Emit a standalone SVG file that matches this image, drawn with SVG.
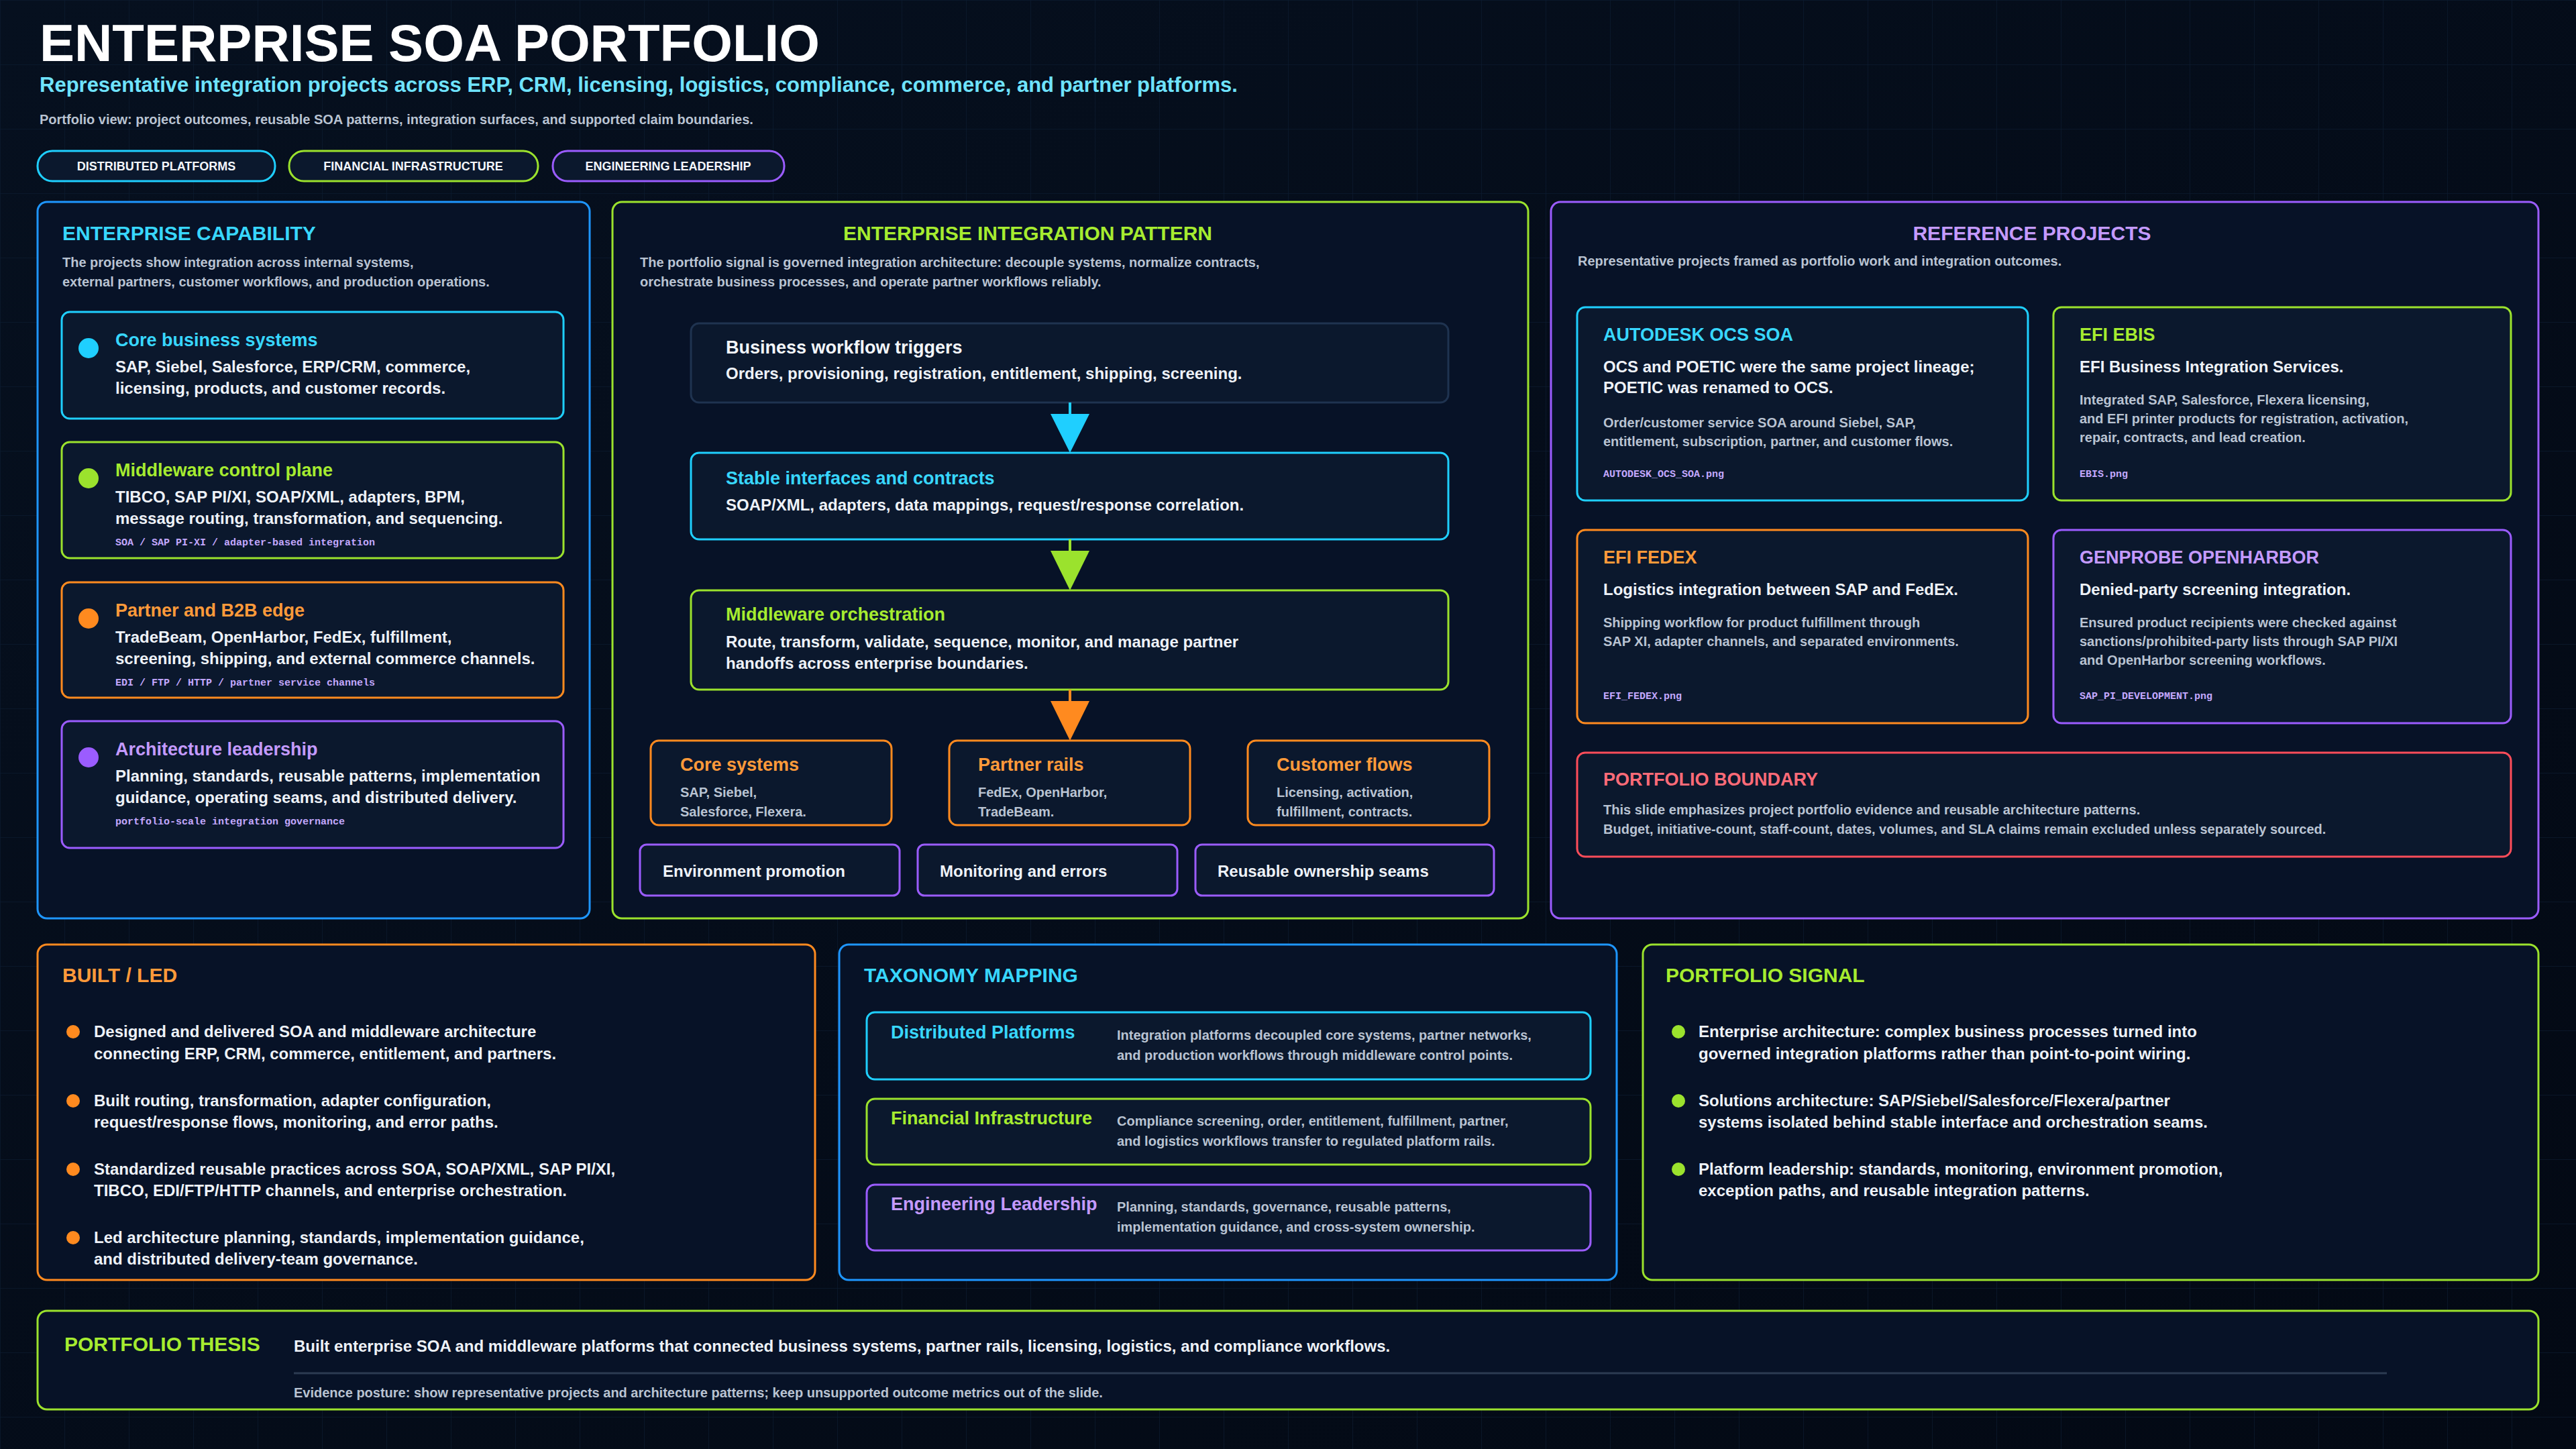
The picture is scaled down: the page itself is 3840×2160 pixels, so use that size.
<svg xmlns="http://www.w3.org/2000/svg" width="3840" height="2160" viewBox="0 0 3840 2160">
<defs>
<linearGradient id="bg" x1="0" y1="0" x2="1" y2="1"><stop offset="0" stop-color="#06101f"/><stop offset="1" stop-color="#030914"/></linearGradient>
<pattern id="grid" width="96" height="96" patternUnits="userSpaceOnUse"><path d="M96 0H0V96" fill="none" stroke="#0c1a2e" stroke-width="1.5"/></pattern>
</defs>
<style>
text{font-family:"Liberation Sans",Arial,sans-serif}
.panel{fill:#071227;stroke-width:3}
.card{fill:#0b182d;stroke-width:3}
.cy{stroke:#1fcfff}.gr{stroke:#9be22d}.or{stroke:#ff8a1f}.pu{stroke:#9b5cff}.bl{stroke:#1e96ff}.rd{stroke:#ff4d5a}.nv{stroke:#1f3350}
.h{font-weight:700;font-size:30px}
.tcy{fill:#38d7ff}.tgr{fill:#a6ec30}.tor{fill:#ff9a3a}.tpu{fill:#c49aff}.trd{fill:#ff6b78}
.ct{font-weight:700;font-size:27px}
.body{font-weight:700;font-size:24px;fill:#eef2f8}
.desc{font-weight:700;font-size:20px;fill:#b9c3d2}
.mono{font-family:"Liberation Mono",monospace;font-size:15px;font-weight:700;fill:#c4a8ff}
.wt{fill:#f3f6fb}
</style>
<rect width="3840" height="2160" fill="url(#bg)"/>
<rect width="3840" height="2160" fill="url(#grid)"/>

<g id="header">
<text x="59" y="91" font-size="78" font-weight="700" fill="#ffffff">ENTERPRISE SOA PORTFOLIO</text>
<text x="59" y="137" font-size="31" font-weight="700" fill="#6fe3ff">Representative integration projects across ERP, CRM, licensing, logistics, compliance, commerce, and partner platforms.</text>
<text x="59" y="185" font-size="20" font-weight="700" fill="#b9c3d2">Portfolio view: project outcomes, reusable SOA patterns, integration surfaces, and supported claim boundaries.</text>
</g>
<g id="pills" font-size="18" font-weight="700">
<rect x="56" y="225" width="354" height="45" rx="22" fill="#0b182d" stroke="#1fcfff" stroke-width="3"/>
<text x="233" y="254" text-anchor="middle" class="wt">DISTRIBUTED PLATFORMS</text>
<rect x="431" y="225" width="371" height="45" rx="22" fill="#0b182d" stroke="#9be22d" stroke-width="3"/>
<text x="616" y="254" text-anchor="middle" class="wt">FINANCIAL INFRASTRUCTURE</text>
<rect x="824" y="225" width="345" height="45" rx="22" fill="#0b182d" stroke="#9b5cff" stroke-width="3"/>
<text x="996" y="254" text-anchor="middle" class="wt">ENGINEERING LEADERSHIP</text>
</g>

<g id="capability">
<rect x="56" y="301" width="823" height="1068" rx="14" class="panel bl"/>
<text x="93" y="358" class="h tcy">ENTERPRISE CAPABILITY</text>
<text x="93" y="398" class="desc">The projects show integration across internal systems,</text>
<text x="93" y="427" class="desc">external partners, customer workflows, and production operations.</text>
</g>
<g id="cap-core">
<rect x="92" y="465" width="748" height="159" rx="12" class="card cy"/>
<circle cx="132" cy="519" r="15" fill="#1fcfff"/>
<text x="172" y="516" class="ct tcy">Core business systems</text>
<text x="172" y="555" class="body">SAP, Siebel, Salesforce, ERP/CRM, commerce,</text>
<text x="172" y="587" class="body">licensing, products, and customer records.</text>
</g>
<g id="cap-middleware">
<rect x="92" y="659" width="748" height="173" rx="12" class="card gr"/>
<circle cx="132" cy="713" r="15" fill="#9be22d"/>
<text x="172" y="710" class="ct tgr">Middleware control plane</text>
<text x="172" y="749" class="body">TIBCO, SAP PI/XI, SOAP/XML, adapters, BPM,</text>
<text x="172" y="781" class="body">message routing, transformation, and sequencing.</text>
<text x="172" y="813" class="mono">SOA / SAP PI-XI / adapter-based integration</text>
</g>
<g id="cap-partner">
<rect x="92" y="868" width="748" height="172" rx="12" class="card or"/>
<circle cx="132" cy="922" r="15" fill="#ff8a1f"/>
<text x="172" y="919" class="ct tor">Partner and B2B edge</text>
<text x="172" y="958" class="body">TradeBeam, OpenHarbor, FedEx, fulfillment,</text>
<text x="172" y="990" class="body">screening, shipping, and external commerce channels.</text>
<text x="172" y="1022" class="mono">EDI / FTP / HTTP / partner service channels</text>
</g>
<g id="cap-arch">
<rect x="92" y="1075" width="748" height="189" rx="12" class="card pu"/>
<circle cx="132" cy="1129" r="15" fill="#9b5cff"/>
<text x="172" y="1126" class="ct tpu">Architecture leadership</text>
<text x="172" y="1165" class="body">Planning, standards, reusable patterns, implementation</text>
<text x="172" y="1197" class="body">guidance, operating seams, and distributed delivery.</text>
<text x="172" y="1229" class="mono">portfolio-scale integration governance</text>
</g>

<g id="pattern">
<rect x="913" y="301" width="1365" height="1068" rx="14" class="panel gr"/>
<text x="1532" y="358" text-anchor="middle" class="h tgr">ENTERPRISE INTEGRATION PATTERN</text>
<text x="954" y="398" class="desc">The portfolio signal is governed integration architecture: decouple systems, normalize contracts,</text>
<text x="954" y="427" class="desc">orchestrate business processes, and operate partner workflows reliably.</text>
</g>
<g id="triggers">
<rect x="1030" y="482" width="1129" height="118" rx="12" class="card nv"/>
<text x="1082" y="527" class="ct wt">Business workflow triggers</text>
<text x="1082" y="565" class="body">Orders, provisioning, registration, entitlement, shipping, screening.</text>
</g>
<g id="interfaces">
<rect x="1030" y="675" width="1129" height="129" rx="12" class="card cy"/>
<text x="1082" y="722" class="ct tcy">Stable interfaces and contracts</text>
<text x="1082" y="761" class="body">SOAP/XML, adapters, data mappings, request/response correlation.</text>
</g>
<g id="orchestration">
<rect x="1030" y="880" width="1129" height="148" rx="12" class="card gr"/>
<text x="1082" y="925" class="ct tgr">Middleware orchestration</text>
<text x="1082" y="965" class="body">Route, transform, validate, sequence, monitor, and manage partner</text>
<text x="1082" y="997" class="body">handoffs across enterprise boundaries.</text>
</g>
<g id="core-systems">
<rect x="970" y="1104" width="359" height="126" rx="12" class="card or"/>
<text x="1014" y="1149" class="ct tor">Core systems</text>
<text x="1014" y="1188" class="desc">SAP, Siebel,</text>
<text x="1014" y="1217" class="desc">Salesforce, Flexera.</text>
</g>
<g id="partner-rails">
<rect x="1415" y="1104" width="359" height="126" rx="12" class="card or"/>
<text x="1458" y="1149" class="ct tor">Partner rails</text>
<text x="1458" y="1188" class="desc">FedEx, OpenHarbor,</text>
<text x="1458" y="1217" class="desc">TradeBeam.</text>
</g>
<g id="customer-flows">
<rect x="1860" y="1104" width="360" height="126" rx="12" class="card or"/>
<text x="1903" y="1149" class="ct tor">Customer flows</text>
<text x="1903" y="1188" class="desc">Licensing, activation,</text>
<text x="1903" y="1217" class="desc">fulfillment, contracts.</text>
</g>
<g id="env-promotion">
<rect x="954" y="1259" width="387" height="76" rx="10" class="card pu"/>
<text x="988" y="1307" class="body">Environment promotion</text>
</g>
<g id="monitoring">
<rect x="1368" y="1259" width="387" height="76" rx="10" class="card pu"/>
<text x="1401" y="1307" class="body">Monitoring and errors</text>
</g>
<g id="ownership">
<rect x="1782" y="1259" width="445" height="76" rx="10" class="card pu"/>
<text x="1815" y="1307" class="body">Reusable ownership seams</text>
</g>
<g id="connectors">
<line x1="1595" y1="600" x2="1595" y2="620" stroke="#1fcfff" stroke-width="4"/>
<polygon points="1566,617 1624,617 1595,675" fill="#1fcfff"/>
<line x1="1595" y1="804" x2="1595" y2="824" stroke="#9be22d" stroke-width="4"/>
<polygon points="1566,821 1624,821 1595,880" fill="#9be22d"/>
<line x1="1595" y1="1028" x2="1595" y2="1048" stroke="#ff8a1f" stroke-width="4"/>
<polygon points="1566,1045 1624,1045 1595,1104" fill="#ff8a1f"/>
</g>

<g id="reference">
<rect x="2312" y="301" width="1472" height="1068" rx="14" class="panel pu"/>
<text x="3029" y="358" text-anchor="middle" class="h tpu">REFERENCE PROJECTS</text>
<text x="2352" y="396" class="desc">Representative projects framed as portfolio work and integration outcomes.</text>
</g>
<g id="autodesk">
<rect x="2351" y="458" width="672" height="288" rx="12" class="card cy"/>
<text x="2390" y="508" class="ct tcy" font-size="29">AUTODESK OCS SOA</text>
<text x="2390" y="555" class="body">OCS and POETIC were the same project lineage;</text>
<text x="2390" y="586" class="body">POETIC was renamed to OCS.</text>
<text x="2390" y="637" class="desc">Order/customer service SOA around Siebel, SAP,</text>
<text x="2390" y="665" class="desc">entitlement, subscription, partner, and customer flows.</text>
<text x="2390" y="711" class="mono">AUTODESK_OCS_SOA.png</text>
</g>
<g id="efi-ebis">
<rect x="3061" y="458" width="682" height="288" rx="12" class="card gr"/>
<text x="3100" y="508" class="ct tgr" font-size="29">EFI EBIS</text>
<text x="3100" y="555" class="body">EFI Business Integration Services.</text>
<text x="3100" y="603" class="desc">Integrated SAP, Salesforce, Flexera licensing,</text>
<text x="3100" y="631" class="desc">and EFI printer products for registration, activation,</text>
<text x="3100" y="659" class="desc">repair, contracts, and lead creation.</text>
<text x="3100" y="711" class="mono">EBIS.png</text>
</g>
<g id="efi-fedex">
<rect x="2351" y="790" width="672" height="288" rx="12" class="card or"/>
<text x="2390" y="840" class="ct tor" font-size="29">EFI FEDEX</text>
<text x="2390" y="887" class="body">Logistics integration between SAP and FedEx.</text>
<text x="2390" y="935" class="desc">Shipping workflow for product fulfillment through</text>
<text x="2390" y="963" class="desc">SAP XI, adapter channels, and separated environments.</text>
<text x="2390" y="1042" class="mono">EFI_FEDEX.png</text>
</g>
<g id="genprobe">
<rect x="3061" y="790" width="682" height="288" rx="12" class="card pu"/>
<text x="3100" y="840" class="ct tpu" font-size="29">GENPROBE OPENHARBOR</text>
<text x="3100" y="887" class="body">Denied-party screening integration.</text>
<text x="3100" y="935" class="desc">Ensured product recipients were checked against</text>
<text x="3100" y="963" class="desc">sanctions/prohibited-party lists through SAP PI/XI</text>
<text x="3100" y="991" class="desc">and OpenHarbor screening workflows.</text>
<text x="3100" y="1042" class="mono">SAP_PI_DEVELOPMENT.png</text>
</g>
<g id="boundary">
<rect x="2351" y="1122" width="1392" height="155" rx="12" class="card rd"/>
<text x="2390" y="1171" class="ct trd" font-size="31">PORTFOLIO BOUNDARY</text>
<text x="2390" y="1214" class="desc">This slide emphasizes project portfolio evidence and reusable architecture patterns.</text>
<text x="2390" y="1243" class="desc">Budget, initiative-count, staff-count, dates, volumes, and SLA claims remain excluded unless separately sourced.</text>
</g>

<g id="built-led">
<rect x="56" y="1408" width="1159" height="500" rx="14" class="panel or"/>
<text x="93" y="1464" class="h tor">BUILT / LED</text>
<circle cx="109" cy="1538" r="10" fill="#ff8a1f"/>
<text x="140" y="1546" class="body">Designed and delivered SOA and middleware architecture</text>
<text x="140" y="1579" class="body">connecting ERP, CRM, commerce, entitlement, and partners.</text>
<circle cx="109" cy="1641" r="10" fill="#ff8a1f"/>
<text x="140" y="1649" class="body">Built routing, transformation, adapter configuration,</text>
<text x="140" y="1681" class="body">request/response flows, monitoring, and error paths.</text>
<circle cx="109" cy="1743" r="10" fill="#ff8a1f"/>
<text x="140" y="1751" class="body">Standardized reusable practices across SOA, SOAP/XML, SAP PI/XI,</text>
<text x="140" y="1783" class="body">TIBCO, EDI/FTP/HTTP channels, and enterprise orchestration.</text>
<circle cx="109" cy="1845" r="10" fill="#ff8a1f"/>
<text x="140" y="1853" class="body">Led architecture planning, standards, implementation guidance,</text>
<text x="140" y="1885" class="body">and distributed delivery-team governance.</text>
</g>

<g id="taxonomy">
<rect x="1251" y="1408" width="1159" height="500" rx="14" class="panel bl"/>
<text x="1288" y="1464" class="h tcy">TAXONOMY MAPPING</text>
</g>
<g id="tax-distributed">
<rect x="1292" y="1509" width="1079" height="100" rx="12" class="card cy"/>
<text x="1328" y="1548" class="ct tcy">Distributed Platforms</text>
<text x="1665" y="1550" class="desc">Integration platforms decoupled core systems, partner networks,</text>
<text x="1665" y="1580" class="desc">and production workflows through middleware control points.</text>
</g>
<g id="tax-financial">
<rect x="1292" y="1638" width="1079" height="98" rx="12" class="card gr"/>
<text x="1328" y="1676" class="ct tgr">Financial Infrastructure</text>
<text x="1665" y="1678" class="desc">Compliance screening, order, entitlement, fulfillment, partner,</text>
<text x="1665" y="1708" class="desc">and logistics workflows transfer to regulated platform rails.</text>
</g>
<g id="tax-engineering">
<rect x="1292" y="1766" width="1079" height="98" rx="12" class="card pu"/>
<text x="1328" y="1804" class="ct tpu">Engineering Leadership</text>
<text x="1665" y="1806" class="desc">Planning, standards, governance, reusable patterns,</text>
<text x="1665" y="1836" class="desc">implementation guidance, and cross-system ownership.</text>
</g>

<g id="signal">
<rect x="2449" y="1408" width="1335" height="500" rx="14" class="panel gr"/>
<text x="2483" y="1464" class="h tgr">PORTFOLIO SIGNAL</text>
<circle cx="2502" cy="1538" r="10" fill="#9be22d"/>
<text x="2532" y="1546" class="body">Enterprise architecture: complex business processes turned into</text>
<text x="2532" y="1579" class="body">governed integration platforms rather than point-to-point wiring.</text>
<circle cx="2502" cy="1641" r="10" fill="#9be22d"/>
<text x="2532" y="1649" class="body">Solutions architecture: SAP/Siebel/Salesforce/Flexera/partner</text>
<text x="2532" y="1681" class="body">systems isolated behind stable interface and orchestration seams.</text>
<circle cx="2502" cy="1743" r="10" fill="#9be22d"/>
<text x="2532" y="1751" class="body">Platform leadership: standards, monitoring, environment promotion,</text>
<text x="2532" y="1783" class="body">exception paths, and reusable integration patterns.</text>
</g>

<g id="thesis">
<rect x="56" y="1954" width="3728" height="147" rx="14" class="panel gr"/>
<text x="96" y="2014" class="h tgr">PORTFOLIO THESIS</text>
<text x="438" y="2015" class="body">Built enterprise SOA and middleware platforms that connected business systems, partner rails, licensing, logistics, and compliance workflows.</text>
<line x1="438" y1="2047" x2="3558" y2="2047" stroke="#2c3b52" stroke-width="3"/>
<text x="438" y="2083" class="desc" font-size="19">Evidence posture: show representative projects and architecture patterns; keep unsupported outcome metrics out of the slide.</text>
</g>
</svg>
